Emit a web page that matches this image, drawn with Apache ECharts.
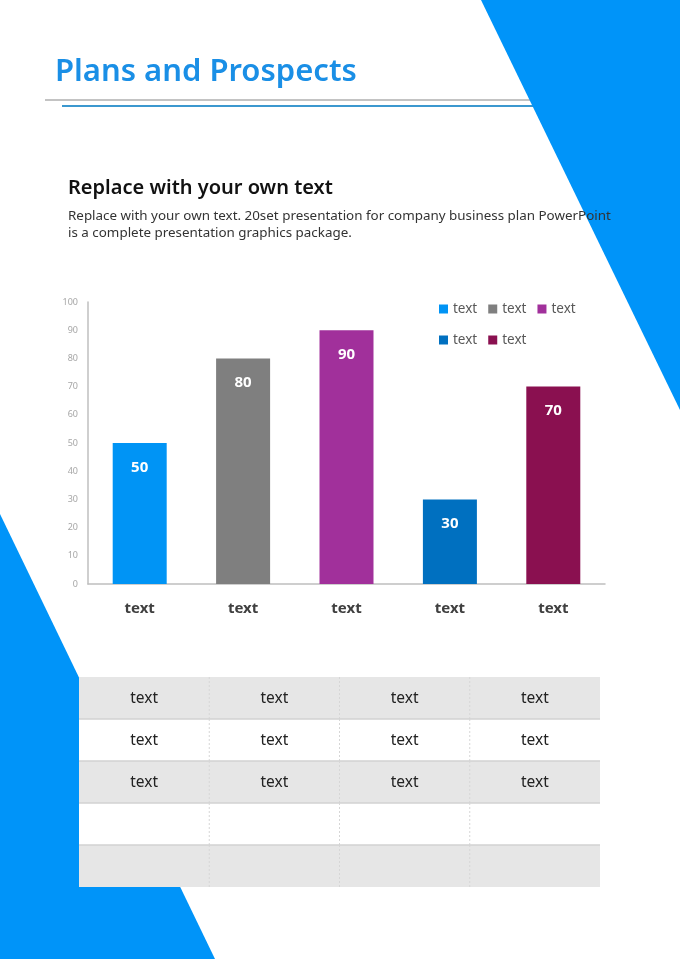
<!DOCTYPE html>
<html>
<head>
<meta charset="utf-8">
<script src="https://cdn.jsdelivr.net/npm/echarts@6/dist/echarts.min.js"></script>
<style>
  html, body { margin: 0; padding: 0; background: #fff; }
  #main { width: 680px; height: 959px; }
</style>
</head>
<body>
<div id="main"></div>
<script>
(function(){
  var categories = ['text', 'text', 'text', 'text', 'text'];
  var values = [50, 80, 90, 30, 70];
  var seriesNames = ['s1', 's2', 's3', 's4', 's5'];
  var legendLabels = ['text', 'text', 'text', 'text', 'text'];
  var colors = ['#0094f5', '#7f7f7f', '#a1309b', '#0070c0', '#8a1050'];
  var yTicks = [0, 10, 20, 30, 40, 50, 60, 70, 80, 90, 100];
  var tableRows = [
    ['text', 'text', 'text', 'text'],
    ['text', 'text', 'text', 'text'],
    ['text', 'text', 'text', 'text'],
    ['', '', '', ''],
    ['', '', '', '']
  ];

  var myChart = echarts.init(document.getElementById('main'));
  var font = '"Noto Sans", "Open Sans", sans-serif';

  // page decoration
  var graphics = [
    { type: 'polygon', z: 1, shape: { points: [[481, 0], [680, 0], [680, 410]] }, style: { fill: '#0094f9' } },
    { type: 'polygon', z: 1, shape: { points: [[0, 514], [215, 959], [0, 959]] }, style: { fill: '#0094f9' } },
    { type: 'line', z: 0, shape: { x1: 45, y1: 100, x2: 540, y2: 100 }, style: { stroke: '#c3c3c3', lineWidth: 2 } },
    { type: 'line', z: 0, shape: { x1: 62, y1: 106, x2: 540, y2: 106 }, style: { stroke: '#3b98cf', lineWidth: 2 } },
    { type: 'text', z: 5, x: 55, y: 72, style: { text: 'Plans and Prospects', font: '600 31px ' + font, fill: '#1a8fe6', verticalAlign: 'middle' } },
    { type: 'text', z: 5, x: 68, y: 188, style: { text: 'Replace with your own text', font: '600 20px ' + font, fill: '#111', verticalAlign: 'middle' } },
    { type: 'text', z: 5, x: 68, y: 216, style: { text: 'Replace with your own text. 20set presentation for company business plan PowerPoint', font: '13.4px ' + font, fill: '#333', verticalAlign: 'middle' } },
    { type: 'text', z: 5, x: 68, y: 233, style: { text: 'is a complete presentation graphics package.', font: '13.4px ' + font, fill: '#333', verticalAlign: 'middle' } }
  ];

  // table
  var tLeft = 79, tTop = 677, tWidth = 521, rowH = 42;
  var colW = tWidth / tableRows[0].length;
  for (var r = 0; r < tableRows.length; r++) {
    var y = tTop + r * rowH;
    graphics.push({ type: 'rect', z: 3, shape: { x: tLeft, y: y, width: tWidth, height: rowH },
      style: { fill: r % 2 === 0 ? '#e6e6e6' : '#ffffff' } });
    if (r > 0) {
      graphics.push({ type: 'line', z: 4, shape: { x1: tLeft, y1: y, x2: tLeft + tWidth, y2: y },
        style: { stroke: '#d2d2d2', lineWidth: 1.5 } });
    }
    for (var c = 0; c < tableRows[r].length; c++) {
      if (c > 0) {
        graphics.push({ type: 'line', z: 4, shape: { x1: tLeft + c * colW, y1: y, x2: tLeft + c * colW, y2: y + rowH },
          style: { stroke: '#d6d6d6', lineWidth: 1, lineDash: [2, 2] } });
      }
      graphics.push({ type: 'text', z: 5, x: tLeft + (c + 0.5) * colW, y: y + rowH / 2 + 1,
        style: { text: tableRows[r][c], font: '15.5px ' + font, fill: '#222', align: 'center', verticalAlign: 'middle' } });
    }
  }

  var series = [];
  for (var i = 0; i < values.length; i++) {
    var d = [];
    for (var j = 0; j < values.length; j++) {
      d.push(j === i ? values[j] : '-');
    }
    series.push({
      name: seriesNames[i],
      type: 'bar',
      data: d,
      barWidth: 54,
      barGap: '-100%',
      itemStyle: { color: colors[i] },
      label: {
        show: true,
        position: 'insideTop',
        distance: 17,
        color: '#fff',
        fontWeight: 'bold',
        fontSize: 15,
        fontFamily: font
      }
    });
  }

  var legendText = {
    color: '#595959',
    fontSize: 13.5,
    fontFamily: font
  };
  var fmt = function (name) { return legendLabels[seriesNames.indexOf(name)]; };

  var option = {
    animation: false,
    backgroundColor: '#fff',
    graphic: graphics,
    legend: [{
      data: seriesNames.slice(0, 3),
      left: 434, top: 297,
      icon: 'rect', itemWidth: 9, itemHeight: 9, itemGap: 11, itemTextGap: 5,
      formatter: fmt, textStyle: legendText
    }, {
      data: seriesNames.slice(3),
      left: 434, top: 328,
      icon: 'rect', itemWidth: 9, itemHeight: 9, itemGap: 11, itemTextGap: 5,
      formatter: fmt, textStyle: legendText
    }],
    grid: { left: 88, right: 75, top: 302, bottom: 375 },
    xAxis: {
      type: 'category',
      data: categories,
      axisLine: { lineStyle: { color: '#bfbfbf', width: 1.5 } },
      axisTick: { show: false },
      axisLabel: { color: '#404040', fontSize: 15, fontWeight: 'bold', margin: 17, fontFamily: font }
    },
    yAxis: {
      type: 'value',
      min: yTicks[0],
      max: yTicks[yTicks.length - 1],
      interval: 10,
      axisLine: { show: true, lineStyle: { color: '#bfbfbf', width: 1.5 } },
      axisTick: { show: false },
      splitLine: { show: false },
      axisLabel: { color: '#a6a6a6', fontSize: 9, margin: 10, fontFamily: font }
    },
    series: series
  };
  myChart.setOption(option);
  window.addEventListener('resize', function () { myChart.resize(); });
})();
</script>
</body>
</html>
